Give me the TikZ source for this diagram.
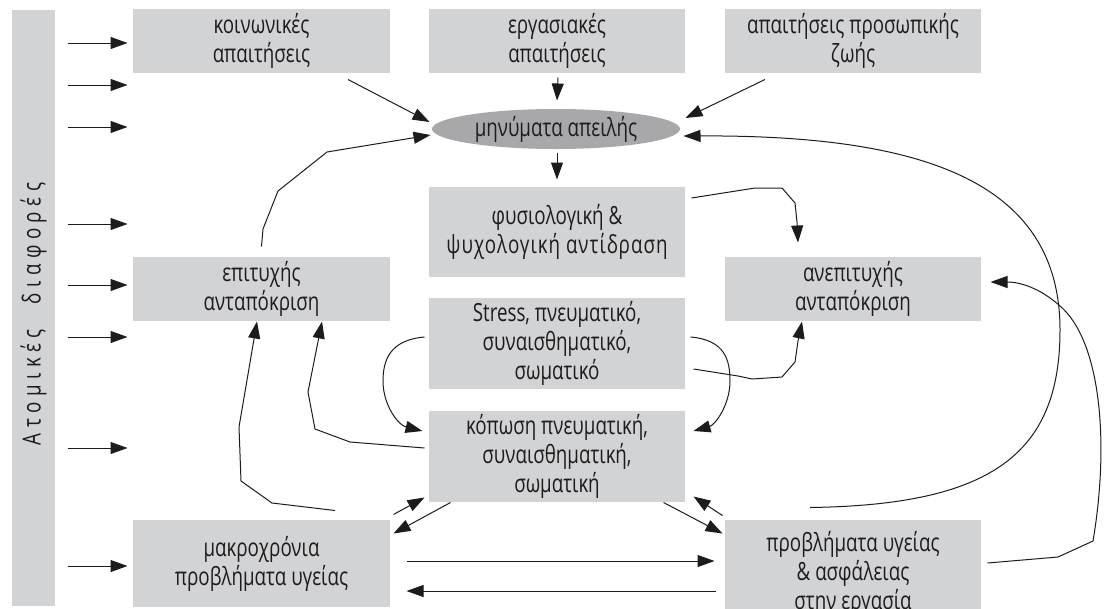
\documentclass[tikz,border=0pt]{standalone}
\usepackage{fontspec}
\setmainfont{Open Sans}[FakeStretch=0.75]
\usetikzlibrary{shapes.geometric, arrows.meta, calc}
\definecolor{gkri}{RGB}{210,211,213}
\definecolor{gkriskouro}{RGB}{168,168,170}
\definecolor{melani}{RGB}{30,27,28}

\begin{document}
\begin{tikzpicture}[x=1pt, y=-1pt, color=melani, line width=1pt,
    plaisio/.style={fill=gkri, align=center, inner sep=0pt, font=\fontsize{25}{29}\selectfont},
    velos/.style={-{Triangle[length=17pt, width=12pt]}}]

\useasboundingbox (0,0) rectangle (1105,608);

% ---- Ατομικές διαφορές (αριστερά) ----
\node[plaisio, rotate=90, minimum width=596pt, minimum height=43pt] (atom) at (33.5,308)
    {\addfontfeature{LetterSpace=22}Ατομικές\quad διαφορές\hspace*{12pt}};

% ---- απαιτήσεις (πάνω) ----
\node[plaisio, minimum width=257pt, minimum height=64pt] (koin) at (261.5,41) {κοινωνικές\\απαιτήσεις};
\node[plaisio, minimum width=256pt, minimum height=64pt] (erg) at (557,41) {εργασιακές\\απαιτήσεις};
\node[plaisio, minimum width=256pt, minimum height=64pt] (pros) at (853,41) {απαιτήσεις προσωπικής\\ζωής};
\node[ellipse, fill=gkriskouro, minimum width=248pt, minimum height=40pt, inner sep=0pt,
    font=\fontsize{25}{29}\selectfont] (apeil) at (556,129) {μηνύματα απειλής};

% ---- αντίδραση και ανταπόκριση ----
\node[plaisio, minimum width=256pt, minimum height=90pt] (fysio) at (557,232) {φυσιολογική \&\\{\addfontfeature{LetterSpace=4}ψυχολογική αντίδραση}};
\node[plaisio, minimum width=257pt, minimum height=64pt] (epit) at (261.5,289) {επιτυχής\\ανταπόκριση};
\node[plaisio, minimum width=256pt, minimum height=64pt] (anep) at (853,289) {ανεπιτυχής\\ανταπόκριση};
\node[plaisio, minimum width=256pt, minimum height=91pt] (stress) at (557,343.5) {Stress, πνευματικό,\\συναισθηματικό,\\σωματικό};
\node[plaisio, minimum width=256pt, minimum height=91pt] (kop) at (557,456.5) {κόπωση πνευματική,\\συναισθηματική,\\σωματική};

% ---- προβλήματα (κάτω) ----
\node[plaisio, minimum width=257pt, minimum height=87pt] (makro) at (261.5,563.5) {μακροχρόνια\\προβλήματα υγείας};
\node[plaisio, minimum width=256pt, minimum height=107pt] (provl) at (853,573.5) {προβλήματα υγείας\\\& ασφάλειας\\στην εργασία};

% Βέλη από τις ατομικές διαφορές
\foreach \y in {43,85,127,224,285,337,448,566}
    \draw[velos] ($(atom.south |- 0,\y)+(12,0)$) -- ($(koin.west |- 0,\y)+(-5,0)$);

% Προς τα μηνύματα απειλής
\draw[velos] ($(koin.south)+(86.5,6)$) -- ($(apeil.west)+(-2,-7)$);
\draw[velos] ($(erg.south)+(1,4)$) -- ($(apeil.north)+(1,-8)$);
\draw[velos] ($(pros.south)+(-88,6)$) -- ($(apeil.east)+(5,-11)$);
\draw[velos] ($(apeil.south)+(1,3)$) -- ($(fysio.north)+(0,-7)$);
\draw[velos] ($(epit.north)+(0,-10)$) -- (263,229) -- (278,191) -- (327,152) -- ($(apeil.west)+(-1,6)$);
\draw[velos] ($(provl.north)+(-43,-12)$) .. controls (990,505) and (1060,455) .. (1060,330)
    .. controls (1060,180) and (920,135) .. ($(apeil.east)+(3,7)$);

% Προς την ανεπιτυχή ανταπόκριση
\draw[velos] ($(fysio.east)+(6,-34)$) -- (755,188) -- (782,188) -- (795,203) -- (797,222) -- ($(anep.north)+(-55,-14)$);
\draw[velos] ($(stress.east)+(8,25.5)$) -- (738,376) -- (752,379) -- (782,377) -- (795,362) -- (798,341) -- ($(anep.south)+(-51,0)$);
\draw[velos] ($(provl.east)+(6,-10.5)$) -- (1058,557) -- (1093,541) .. controls (1110,440) and (1100,340) .. (1060,306)
    .. controls (1040,288) and (1020,282) .. ($(anep.east)+(9,-7)$);

% Από το stress στην κόπωση
\draw[velos] ($(stress.east)+(5,-6.5)$) .. controls (725,340) and (730,360) .. (730,381)
    .. controls (730,405) and (715,425) .. ($(kop.east)+(8,-25.5)$);
\draw[velos] ($(stress.west)+(-4,-6.5)$) .. controls (390,340) and (383,360) .. (383,381)
    .. controls (383,405) and (398,425) .. ($(kop.west)+(-6,-25.5)$);

% Προς την επιτυχή ανταπόκριση
\draw[velos] ($(kop.west)+(-4,-8.5)$) -- (350,442) -- (315,429) -- (308,392) -- ($(epit.south)+(60.5,0)$);
\draw[velos] ($(makro.north)+(73.5,-9)$) -- (272,503) -- (241,481) -- (239,427) -- ($(epit.south)+(-4.5,0)$);

% Κόπωση και προβλήματα
\draw[velos] ($(makro.north east)+(3,-5)$) -- ($(kop.south west)+(-4,-5)$);
\draw[velos] ($(kop.south west)+(22,0)$) -- ($(makro.north east)+(3,14)$);
\draw[velos] ($(kop.south east)+(-22,0)$) -- ($(provl.north west)+(-2,14)$);
\draw[velos] ($(provl.north west)+(-2,-4)$) -- ($(kop.south east)+(8,-6)$);
\draw[velos] ($(makro.east)+(16,-2.5)$) -- ($(provl.west)+(-10,-12.5)$);
\draw[velos] ($(provl.west)+(-9,17.5)$) -- ($(makro.east)+(16,27.5)$);

\end{tikzpicture}
\end{document}
